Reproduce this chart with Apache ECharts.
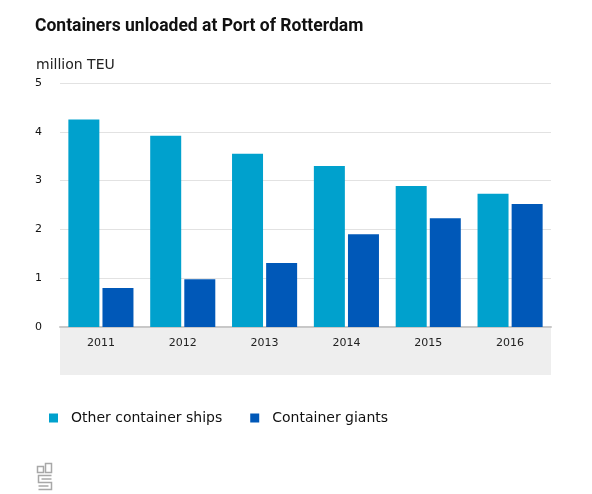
<!DOCTYPE html>
<html><head><meta charset="utf-8">
<script src="https://cdn.jsdelivr.net/npm/echarts@6/dist/echarts.min.js"></script>
<style>html,body{margin:0;padding:0;background:#fff}#c{width:592px;height:494px}</style>
</head><body><div id="c"></div>
<script>
var categories = ['2011','2012','2013','2014','2015','2016'];
var otherShips = [4.25, 3.92, 3.55, 3.30, 2.89, 2.73];
var giants = [0.80, 0.98, 1.31, 1.90, 2.23, 2.52];
var yTicks = [0,1,2,3,4,5];
var seriesNames = ['Other container ships','Container giants'];

var chart = echarts.init(document.getElementById('c'));
var gray = '#a8a8a8';
chart.setOption({
  animation:false,
  title:{text:'Containers unloaded at Port of Rotterdam',left:30,top:13,
    textStyle:{fontFamily:'Roboto',fontWeight:'bold',fontSize:17.5,color:'#111'}},
  graphic:[
    {type:'text',left:36,top:58,style:{text:'million TEU',font:'14px "DejaVu Sans"',fill:'#222'}},
    {type:'rect',shape:{x:60,y:328,width:491,height:47},style:{fill:'#eeeeee'},z:-10},
    {type:'group',left:35,top:461,children:[
      {type:'rect',shape:{x:0,y:3,width:6,height:6},style:{fill:'none',stroke:gray,lineWidth:1.5}},
      {type:'rect',shape:{x:8,y:0,width:6,height:9},style:{fill:'none',stroke:gray,lineWidth:1.5}},
      {type:'polyline',shape:{points:[[14,12],[1,12],[1,19],[14,19],[14,26],[1,26]]},style:{fill:'none',stroke:gray,lineWidth:1.5}},
      {type:'polyline',shape:{points:[[4,15.5],[14,15.5]]},style:{fill:'none',stroke:gray,lineWidth:1.5}},
      {type:'polyline',shape:{points:[[1,22.5],[11,22.5]]},style:{fill:'none',stroke:gray,lineWidth:1.5}}
    ]}
  ],
  legend:{left:44,top:406,itemWidth:9,itemHeight:9,itemGap:28,icon:'rect',
    textStyle:{fontFamily:'DejaVu Sans',fontSize:14,color:'#111',padding:[0,0,0,8]},
    data:seriesNames},
  grid:{left:60,right:41,top:83,bottom:167,containLabel:false},
  xAxis:{type:'category',data:categories,
    axisLine:{lineStyle:{color:'#c8c8c8',width:2}},
    axisTick:{alignWithLabel:true,length:8,lineStyle:{color:'#c8c8c8'}},
    axisLabel:{fontFamily:'DejaVu Sans',fontSize:11,color:'#222',margin:11}},
  yAxis:{type:'value',min:0,max:5,interval:1,
    axisLabel:{fontFamily:'DejaVu Sans',fontSize:11,color:'#111',align:'left',margin:25},
    splitLine:{lineStyle:{color:'#e2e2e2'}},axisLine:{show:false},axisTick:{show:false}},
  series:[
    {name:seriesNames[0],type:'bar',data:otherShips,barWidth:31,barGap:'10%',itemStyle:{color:'#00a1cd'}},
    {name:seriesNames[1],type:'bar',data:giants,barWidth:31,barGap:'10%',itemStyle:{color:'#0058b8'}}
  ]
});
</script></body></html>
